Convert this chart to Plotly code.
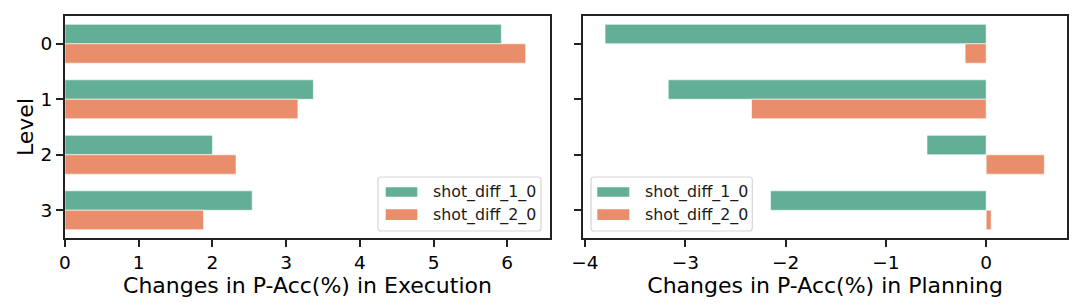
import plotly.graph_objects as go

levels = ["0", "1", "2", "3"]
series_names = ["shot_diff_1_0", "shot_diff_2_0"]
exec_s1 = [5.92, 3.37, 2.00, 2.54]
exec_s2 = [6.25, 3.16, 2.32, 1.88]
plan_s1 = [-3.80, -3.17, -0.59, -2.15]
plan_s2 = [-0.21, -2.34, 0.58, 0.05]

colors = ["#63ae96", "#e98d6a"]
FONT = "DejaVu Sans"

W, H = 1080, 306
ML, MR, MT, MB = 65, 13, 16, 68
PW, PH = W - ML - MR, H - MT - MB


def px(xp):
    return (xp - ML) / PW


def py(yp):
    return (H - MB - yp) / PH


fig = go.Figure()
for name, vals, c in zip(series_names, [exec_s1, exec_s2], colors):
    fig.add_trace(go.Bar(y=[int(l) for l in levels], x=vals, orientation="h", name=name,
                         marker=dict(color=c, line=dict(color="white", width=0.6)),
                         xaxis="x", yaxis="y", showlegend=False))
for name, vals, c in zip(series_names, [plan_s1, plan_s2], colors):
    fig.add_trace(go.Bar(y=[int(l) for l in levels], x=vals, orientation="h", name=name,
                         marker=dict(color=c, line=dict(color="white", width=0.6)),
                         xaxis="x2", yaxis="y2", showlegend=False))

axis_common = dict(showline=True, linecolor="#222222", linewidth=2, mirror=True,
                   ticks="outside", ticklen=7, tickwidth=1.6, tickcolor="#222222",
                   showgrid=False, zeroline=False,
                   tickfont=dict(family=FONT, size=18.5, color="black"))

fig.update_layout(
    width=W, height=H,
    margin=dict(l=ML, r=MR, t=MT, b=MB),
    paper_bgcolor="white", plot_bgcolor="white",
    barmode="group", bargap=0.3, bargroupgap=0,
    font=dict(family=FONT, color="black"),
    xaxis=dict(domain=[0, px(550)], range=[0, 6.58], tickvals=[0, 1, 2, 3, 4, 5, 6],
               title=dict(text="Changes in P-Acc(%) in Execution", font=dict(family=FONT, size=22), standoff=4),
               **axis_common),
    yaxis=dict(range=[3.5, -0.5], autorange=False, tickvals=[0, 1, 2, 3], ticktext=levels,
               title=dict(text="Level", font=dict(family=FONT, size=22), standoff=1),
               **axis_common),
    xaxis2=dict(domain=[px(583.3), 1], range=[-4.017, 0.806], tickvals=[-4, -3, -2, -1, 0],
                ticktext=["\u22124", "\u22123", "\u22122", "\u22121", "0"],
                title=dict(text="Changes in P-Acc(%) in Planning", font=dict(family=FONT, size=22), standoff=4),
                **axis_common),
    yaxis2=dict(anchor="x2", range=[3.5, -0.5], autorange=False, tickvals=[0, 1, 2, 3],
                showticklabels=False, **axis_common),
)


def rounded_box(x0, y0, x1, y1, r=3):
    def P(x, y):
        return f"{px(x):.5f},{py(y):.5f}"
    return (f"M {P(x0 + r, y0)} L {P(x1 - r, y0)} Q {P(x1, y0)} {P(x1, y0 + r)} "
            f"L {P(x1, y1 - r)} Q {P(x1, y1)} {P(x1 - r, y1)} "
            f"L {P(x0 + r, y1)} Q {P(x0, y1)} {P(x0, y1 - r)} "
            f"L {P(x0, y0 + r)} Q {P(x0, y0)} {P(x0 + r, y0)} Z")


legend_specs = [
    dict(box=(378, 177, 541, 231), sym_x=(385.7, 417.3), text_x=431),
    dict(box=(591, 177, 752.3, 231), sym_x=(597.3, 629.3), text_x=642.7),
]
row_y = [(187.3, 196.7), (209.3, 220.0)]

for spec in legend_specs:
    bx0, by0, bx1, by1 = spec["box"]
    fig.add_shape(type="path", xref="paper", yref="paper",
                  path=rounded_box(bx0, by0, bx1, by1),
                  fillcolor="rgba(255,255,255,0.85)", line=dict(color="#d6d6d6", width=1.2))
    for (y0, y1), name, c in zip(row_y, series_names, colors):
        sx0, sx1 = spec["sym_x"]
        fig.add_shape(type="rect", xref="paper", yref="paper",
                      x0=px(sx0), x1=px(sx1), y0=py(y1), y1=py(y0),
                      fillcolor=c, line=dict(width=0))
        fig.add_annotation(xref="paper", yref="paper", x=px(spec["text_x"]), y=py((y0 + y1) / 2),
                           text=name, showarrow=False, xanchor="left", yanchor="middle",
                           font=dict(family=FONT, size=15.8, color="#1a1a1a"))

fig.write_html("out.html")
